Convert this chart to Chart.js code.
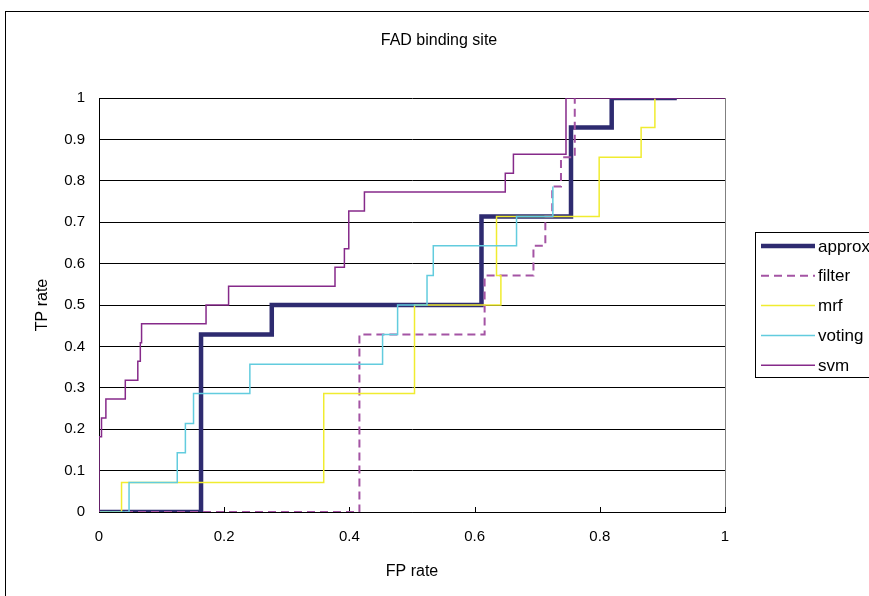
<!DOCTYPE html>
<html>
<head>
<meta charset="utf-8">
<script src="https://cdn.jsdelivr.net/npm/chart.js@4"></script>
<style>
  html, body { margin: 0; padding: 0; background: #fff; overflow: hidden; }
  #wrap { width: 869px; height: 596px; position: relative; }
</style>
</head>
<body>
<div id="wrap"><canvas id="roc" width="869" height="596"></canvas></div>
<script>
// ROC points (FP rate, TP rate)
const approxFp = [0, 0.163, 0.276, 0.611, 0.754, 0.819, 0.923];
const approxTp = [0, 0.429, 0.5, 0.714, 0.929, 1, 1];

const filterFp = [0, 0.416, 0.616, 0.694, 0.713, 0.724, 0.738, 0.760];
const filterTp = [0, 0.429, 0.571, 0.643, 0.714, 0.786, 0.857, 1];

const mrfFp = [0, 0.036, 0.359, 0.504, 0.642, 0.635, 0.799, 0.866, 0.888];
const mrfTp = [0, 0.071, 0.286, 0.5, 0.571, 0.714, 0.857, 0.929, 1];

const votingFp = [0, 0.048, 0.125, 0.138, 0.151, 0.241, 0.453, 0.477, 0.524, 0.534, 0.667, 0.725];
const votingTp = [0, 0.071, 0.143, 0.214, 0.286, 0.357, 0.429, 0.5, 0.571, 0.643, 0.714, 0.786];

const svmFp = [0, 0, 0.004, 0.011, 0.042, 0.062, 0.066, 0.068, 0.171, 0.207, 0.377, 0.392, 0.399, 0.424, 0.649, 0.662, 0.746, 1];
const svmTp = [0, 0.182, 0.227, 0.273, 0.318, 0.364, 0.409, 0.455, 0.5, 0.545, 0.591, 0.636, 0.727, 0.773, 0.818, 0.864, 1, 1];

const seriesNames = ['approx', 'filter', 'mrf', 'voting', 'svm'];
const xTicks = [0, 0.2, 0.4, 0.6, 0.8, 1];

const FONT = 'Arial, "Liberation Sans", sans-serif';

const pts = (xs, ys) => xs.map((x, i) => ({ x, y: ys[i] }));
const fmt = v => String(Number(v.toFixed(2)));

const styles = {
  approx: { color: '#2E2B70', width: 4.5, dash: [] },
  filter: { color: '#A454A4', width: 2, dash: [8, 5] },
  mrf:    { color: '#F0EC30', width: 1.5, dash: [] },
  voting: { color: '#62CCDE', width: 1.5, dash: [] },
  svm:    { color: '#862A8A', width: 1.5, dash: [] }
};

const rawData = {
  approx: pts(approxFp, approxTp),
  filter: pts(filterFp, filterTp),
  mrf: pts(mrfFp, mrfTp),
  voting: pts(votingFp, votingTp),
  svm: pts(svmFp, svmTp)
};

// Excel draws later series on top; in Chart.js lower order is drawn on top
const datasets = seriesNames.map((name, i) => ({
  label: name,
  data: rawData[name],
  showLine: true,
  stepped: 'before',
  borderColor: styles[name].color,
  borderWidth: styles[name].width,
  borderDash: styles[name].dash,
  pointRadius: 0,
  fill: false,
  order: seriesNames.length - i
}));

// outer frame, title, plot right border and inside ticks on the x axis
const framePlugin = {
  id: 'frame',
  beforeDraw(chart) {
    const c = chart.ctx;
    c.save();
    c.fillStyle = '#fff';
    c.fillRect(0, 0, chart.width, chart.height);
    c.strokeStyle = '#000';
    c.lineWidth = 1;
    c.strokeRect(5.5, 11.5, 2000, 2000);
    c.fillStyle = '#000';
    c.font = '16px ' + FONT;
    c.textAlign = 'center';
    c.textBaseline = 'middle';
    c.fillText('FAD binding site', 439, 41);
    c.restore();
  },
  beforeDatasetsDraw(chart) {
    const c = chart.ctx;
    const a = chart.chartArea;
    const xs = chart.scales.x;
    c.save();
    c.strokeStyle = '#808080';
    c.lineWidth = 1;
    c.beginPath();
    c.moveTo(Math.round(a.right) + 0.5, a.top);
    c.lineTo(Math.round(a.right) + 0.5, a.bottom);
    c.stroke();
    c.strokeStyle = '#000';
    c.beginPath();
    xTicks.forEach(v => {
      const px = Math.round(xs.getPixelForValue(v)) + 0.5;
      c.moveTo(px, a.bottom);
      c.lineTo(px, a.bottom - 5);
    });
    c.stroke();
    c.restore();
  }
};

// legend box, cut by the right edge like the picture
const legendPlugin = {
  id: 'sideLegend',
  afterDraw(chart) {
    const c = chart.ctx;
    const left = 755, top = 232, bottom = 377;
    c.save();
    c.fillStyle = '#fff';
    c.fillRect(left + 0.5, top + 0.5, 400, bottom - top);
    c.strokeStyle = '#000';
    c.lineWidth = 1;
    c.strokeRect(left + 0.5, top + 0.5, 400, bottom - top);
    c.font = '17px ' + FONT;
    c.textBaseline = 'middle';
    c.fillStyle = '#000';
    seriesNames.forEach((name, i) => {
      const y = 246 + i * 29.8;
      const s = styles[name];
      c.strokeStyle = s.color;
      c.lineWidth = s.width;
      c.setLineDash(s.dash);
      c.beginPath();
      c.moveTo(761, y);
      c.lineTo(815, y);
      c.stroke();
      c.setLineDash([]);
      c.fillText(name, 818, y + 1);
    });
    c.restore();
  }
};

const ctx = document.getElementById('roc').getContext('2d');
new Chart(ctx, {
  type: 'scatter',
  data: { datasets },
  options: {
    responsive: false,
    animation: false,
    events: [],
    layout: { padding: { left: 0, right: 144, top: 98, bottom: 0 } },
    plugins: {
      legend: { display: false },
      tooltip: { enabled: false },
      title: { display: false }
    },
    scales: {
      x: {
        type: 'linear',
        min: 0,
        max: 1,
        afterBuildTicks: s => { s.ticks = xTicks.map(v => ({ value: v })); },
        ticks: { color: '#000', font: { family: FONT, size: 15 }, padding: 16, maxRotation: 0, callback: fmt },
        grid: { display: false, drawTicks: false },
        border: { display: true, color: '#000', width: 1 },
        title: {
          display: true,
          text: 'FP rate',
          color: '#000',
          font: { family: FONT, size: 16 },
          padding: { top: 0, bottom: 15 }
        },
        afterFit: s => { s.height = 84; }
      },
      y: {
        type: 'linear',
        min: 0,
        max: 1,
        ticks: { stepSize: 0.1, color: '#000', font: { family: FONT, size: 15 }, padding: 14, callback: fmt },
        grid: { color: '#000', lineWidth: 1, drawTicks: false },
        border: { display: true, color: '#000', width: 1 },
        title: {
          display: true,
          text: 'TP rate',
          color: '#000',
          font: { family: FONT, size: 16 },
          padding: { top: 33, bottom: 0 }
        },
        afterFit: s => { s.width = 99; }
      }
    }
  },
  plugins: [framePlugin, legendPlugin]
});
</script>
</body>
</html>
